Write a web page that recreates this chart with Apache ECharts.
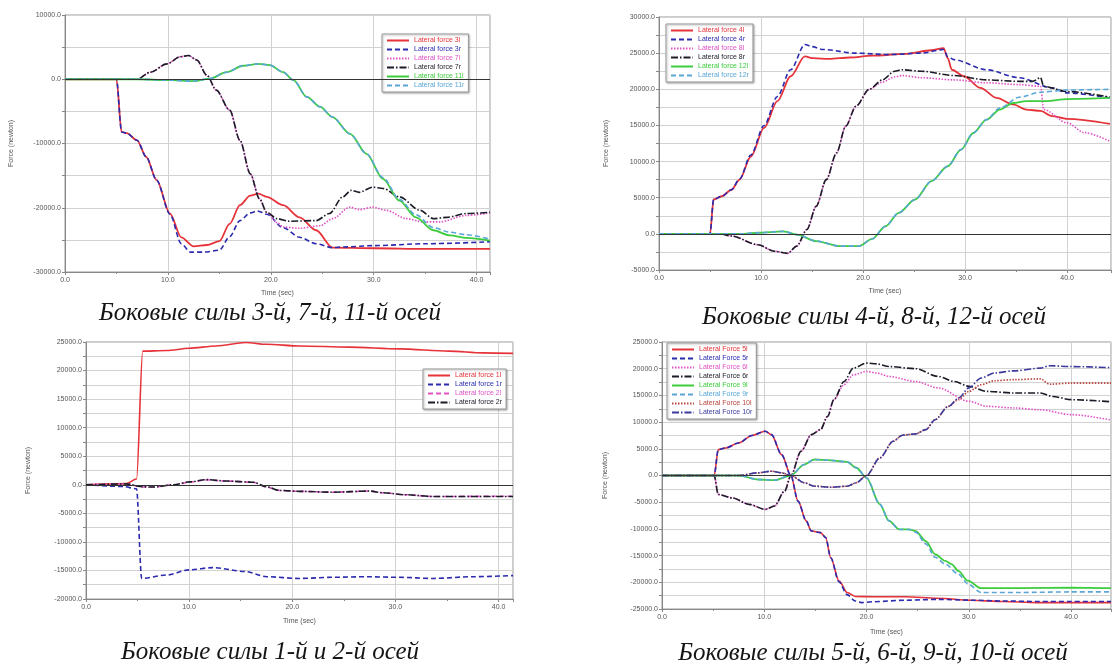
<!DOCTYPE html>
<html>
<head>
<meta charset="utf-8">
<script src="https://cdn.jsdelivr.net/npm/echarts/dist/echarts.min.js"></script>
<style>
  html, body { margin: 0; padding: 0; background: #fff; }
  #chart { width: 1114px; height: 666px; }
</style>
</head>
<body>
<div id="chart"></div>
<script>
// ---- данные: [время, сила] ----
// оси 3, 7, 11
const f3l = [[0,0],[5.0,0],[5.5,-8200],[6.0,-8400],[7.0,-9500],[7.9,-12100],[8.9,-15700],[10.2,-20900],[11.3,-24600],[12.5,-26000],[13.8,-25800],[15.0,-25200],[16.0,-22500],[17.0,-19600],[18.0,-18100],[18.8,-17800],[19.6,-18300],[21.2,-19600],[22.8,-21500],[24.4,-23500],[26.0,-26200],[30,-26300],[35,-26400],[41.3,-26400]];
const f3r = [[0,0],[5.0,0],[5.5,-8200],[6.0,-8400],[7.0,-9500],[7.9,-12100],[8.9,-15700],[10.2,-21000],[11.3,-25600],[12.2,-26900],[13.5,-26900],[15.0,-26600],[16.0,-24500],[17.0,-22000],[18.0,-20800],[18.7,-20500],[19.6,-21000],[21.2,-23100],[22.8,-24600],[24.4,-25600],[26.0,-26200],[27,-26100],[30,-25900],[35,-25600],[41.3,-25300]];
const f7l = [[0,0],[7,0],[8.3,1100],[9.9,2400],[11.2,3500],[12,3700],[12.8,3000],[13.8,600],[14.7,-1700],[16,-4800],[17,-9500],[18,-14700],[18.9,-18600],[19.6,-20700],[20.6,-22300],[21.2,-23000],[22.8,-23200],[24.8,-22800],[26,-21700],[27.7,-19900],[28.6,-20300],[29.9,-19900],[31.2,-20400],[33.2,-21700],[34.8,-22200],[36.4,-22200],[39,-21200],[41.3,-20800]];
const f7r = [[0,0],[7,0],[8.3,1100],[9.9,2400],[11.2,3500],[12,3700],[12.8,3000],[13.8,600],[14.7,-1700],[16,-4800],[17,-9500],[18,-14700],[18.9,-18600],[19.6,-20700],[20.6,-21700],[21.8,-22100],[24.4,-22000],[25.7,-20900],[27,-18300],[27.8,-17300],[28.6,-17600],[29.9,-16800],[30.9,-17000],[32.5,-18300],[34.5,-20400],[35.8,-21700],[37.1,-21500],[39,-20900],[41.3,-20700]];
const f11l = [[0,0],[7,0],[10.2,-150],[12.5,-300],[14.1,100],[15.7,1100],[17.3,2100],[18.8,2400],[19.9,2200],[21.2,1100],[22.2,-150],[23.5,-2750],[24.8,-4300],[26,-5900],[27.7,-8500],[29.3,-11600],[30.9,-15500],[32.5,-18900],[34.1,-21500],[35.8,-23500],[37.4,-24300],[39,-24700],[41.3,-25100]];
const f11r = [[0,0],[7,0],[10.2,-150],[12.5,-300],[14.1,100],[15.7,1100],[17.3,2100],[18.8,2400],[19.9,2200],[21.2,1100],[22.2,-150],[23.5,-2750],[24.8,-4300],[26,-5900],[27.7,-8500],[29.3,-11600],[30.9,-15300],[32.5,-18700],[34.1,-21100],[35.8,-23100],[37.4,-23800],[39,-24200],[41.3,-24900]];

// оси 4, 8, 12
const f4l = [[0,0],[5.0,0],[5.35,4750],[6.15,5200],[7.1,6100],[7.9,7500],[9.0,10700],[10.3,14650],[11.6,18350],[12.9,21800],[14.3,24550],[15.1,24300],[16.7,24200],[18.7,24400],[20.9,24650],[24.1,24900],[26.7,25400],[27.9,25700],[28.3,24300],[28.7,22700],[29.9,21800],[31.5,20200],[33.1,18800],[34.7,17900],[36.0,17200],[37.4,17000],[38.5,16300],[40,15900],[44.2,15200]];
const f4r = [[0,0],[5.0,0],[5.35,4750],[6.15,5200],[7.1,6100],[7.9,7600],[9.0,10900],[10.3,15000],[11.6,19000],[12.9,22700],[14.3,26200],[15.0,25900],[16.1,25500],[19.3,25000],[22.5,24800],[25.7,25000],[27.9,25500],[28.3,24500],[28.9,24100],[32.1,22700],[35.3,21600],[38.5,20200],[40,19500],[44.2,18800]];
const f8l = [[0,0],[6,0],[7.1,-300],[9.7,-1500],[11.3,-2400],[12.6,-2700],[13.5,-1700],[14.5,600],[15.4,3800],[16.4,7500],[17.4,11200],[18.3,14900],[19.3,17650],[20.6,20000],[21.9,21000],[23.1,21700],[23.8,21900],[25.7,21600],[28.9,21300],[32.1,20900],[35.3,20650],[37.4,20400],[37.7,17200],[40,15350],[41.7,14000],[44.2,12800]];
const f8r = [[0,0],[6,0],[7.1,-300],[9.7,-1500],[11.3,-2400],[12.6,-2700],[13.5,-1700],[14.5,600],[15.4,3800],[16.4,7500],[17.4,11200],[18.3,14900],[19.3,17650],[20.6,20000],[21.9,21300],[23.1,22500],[23.8,22700],[25.7,22500],[28.9,21900],[32.1,21300],[35.3,21100],[36.6,21100],[37.4,21600],[37.7,20400],[40,19700],[44.2,18900]];
const f12l = [[0,0],[8,0],[9.7,150],[12.2,350],[13.5,-100],[15.4,-1000],[17.7,-1700],[19.6,-1700],[20.9,-700],[22.2,1050],[23.5,2900],[25.1,4750],[26.7,7300],[28.3,9350],[29.6,11650],[30.8,13950],[32.1,15800],[33.4,17200],[34.7,18100],[36,18350],[37.9,18350],[40,18650],[44.2,18800]];
const f12r = [[0,0],[8,0],[9.7,150],[12.2,350],[13.5,-100],[15.4,-1000],[17.7,-1700],[19.6,-1700],[20.9,-700],[22.2,1050],[23.5,2900],[25.1,4750],[26.7,7300],[28.3,9350],[29.6,11650],[30.8,13950],[32.1,15800],[33.4,17400],[35.3,18900],[37.4,19600],[40,19900],[44.2,20000]];

// оси 1, 2
const f1l = [[0,0],[3.9,200],[4.9,1000],[5.5,23400],[7.8,23500],[10,23900],[12.6,24300],[15.5,24900],[17.5,24600],[20.7,24300],[25.5,24100],[30.4,23800],[35.2,23400],[38.5,23100],[41.4,23000]];
const f1r = [[0,0],[3.6,-300],[4.9,-700],[5.4,-16400],[7.8,-15800],[10,-14900],[12.3,-14500],[15.5,-15200],[17.5,-16100],[20.7,-16400],[23.9,-16200],[27.2,-16100],[30.4,-16200],[33.6,-16400],[37.5,-16100],[41.4,-15900]];
const f2l = [[0,0],[3.9,150],[5.5,-400],[6.5,-400],[8.5,0],[10,450],[11.7,850],[13.6,650],[16.2,450],[17.5,-400],[18.8,-1000],[20.7,-1150],[23.9,-1300],[27.5,-1100],[28.8,-1400],[31,-1750],[33.6,-2050],[41.4,-2000]];
const f2r = [[0,0],[3.9,150],[5.5,-350],[6.5,-400],[8.5,0],[10,500],[11.7,900],[13.6,650],[16.2,450],[17.5,-350],[18.8,-1000],[20.7,-1150],[23.9,-1300],[27.5,-1100],[28.8,-1400],[31,-1750],[33.6,-2050],[41.4,-2050]];

// оси 5, 6, 9, 10
const f5l = [[0,0],[5.1,0],[5.5,4850],[6.2,5150],[7.5,6100],[8.8,7500],[10.1,8300],[10.7,7650],[11.7,3900],[12.6,0],[13.3,-4800],[14.1,-8500],[14.6,-10400],[15.5,-10700],[16,-11600],[16.5,-15400],[17.3,-19700],[18.1,-21900],[18.9,-22650],[20.6,-22700],[23.8,-22700],[27,-23000],[30.2,-23350],[33.4,-23600],[36.6,-23800],[40,-23800],[43.9,-23800]];
const f5r = [[0,0],[5.1,0],[5.5,4850],[6.2,5150],[7.5,6100],[8.8,7500],[10.1,8300],[10.7,7650],[11.7,3900],[12.6,0],[13.3,-4800],[14.1,-8500],[14.6,-10400],[15.5,-10700],[16,-11600],[16.5,-15400],[17.3,-19900],[18.1,-22300],[18.9,-23500],[19.5,-23800],[20.6,-23650],[23.8,-23350],[27,-23200],[30.2,-23350],[33.4,-23500],[36.6,-23600],[40,-23600],[43.9,-23600]];
const f6l = [[0,0],[5.1,0],[5.5,-3550],[6.9,-4200],[8.5,-5400],[10.1,-6350],[11,-5700],[12,-2900],[12.6,0],[13.6,4550],[14.6,7650],[15.5,8600],[16.2,11100],[16.8,14200],[17.8,17000],[18.7,18850],[20,19500],[21,19200],[22.2,18550],[24.8,17600],[27,16400],[30,13900],[31.8,12950],[34.4,12650],[37,12300],[40,11400],[43.9,10400]];
const f6r = [[0,0],[5.1,0],[5.5,-3550],[6.9,-4200],[8.5,-5400],[10.1,-6350],[11,-5700],[12,-2900],[12.6,0],[13.6,4550],[14.6,7650],[15.5,8600],[16.2,11100],[16.8,14200],[17.8,17600],[18.7,20100],[20,21050],[21,20900],[22.2,20400],[24.8,20000],[27,18550],[28.6,17600],[30,16700],[31.8,15750],[34.4,15450],[37,15450],[38.2,14800],[40,14200],[43.9,13800]];
const f9l = [[0,0],[7.5,0],[9.4,-750],[11,-870],[12.6,0],[13.9,2050],[14.9,3000],[16.5,2850],[18.1,2550],[19,1450],[20,-450],[21.3,-5400],[22.2,-8500],[23.2,-10100],[24.2,-10100],[24.8,-10400],[25.8,-12300],[26.7,-14750],[27.7,-16000],[28.3,-16600],[29,-17900],[29.9,-19700],[31.2,-21100],[35,-21100],[40,-21000],[43.9,-21100]];
const f9r = [[0,0],[7.5,0],[9.4,-750],[11,-870],[12.6,0],[13.9,2050],[14.9,3000],[16.5,2850],[18.1,2550],[19,1450],[20,-450],[21.3,-5400],[22.2,-8500],[23.2,-10100],[24.2,-10100],[24.8,-10600],[25.8,-12800],[26.7,-15300],[27.7,-16600],[29,-18500],[29.9,-20300],[31.2,-21900],[35,-21900],[40,-21800],[43.9,-21800]];
const f10l = [[0,0],[7.5,0],[9.4,500],[10.7,800],[11.7,500],[12.6,0],[13.9,-1350],[14.9,-2000],[16.5,-2200],[18.1,-2000],[19,-1350],[20,0],[21.3,3300],[22.6,6400],[23.5,7550],[24.8,7800],[25.8,8600],[26.7,10450],[28,12950],[29,14200],[30,15750],[31.2,17000],[32.5,17750],[34.4,17950],[37,18100],[37.9,17100],[40,17300],[43.9,17300]];
const f10r = [[0,0],[7.5,0],[9.4,500],[10.7,800],[11.7,500],[12.6,0],[13.9,-1350],[14.9,-2000],[16.5,-2200],[18.1,-2000],[19,-1350],[20,0],[21.3,3300],[22.6,6400],[23.5,7550],[24.8,7800],[25.8,8600],[26.7,10450],[28,12950],[29,14500],[30,16400],[31.2,18250],[32.5,19200],[34.4,19600],[37,20100],[37.9,20550],[40,20400],[43.9,20200]];

const captions = [
  "Боковые силы 3-й, 7-й, 11-й осей",
  "Боковые силы 4-й, 8-й, 12-й осей",
  "Боковые силы 1-й и 2-й осей",
  "Боковые силы 5-й, 6-й, 9-й, 10-й осей"
];

// стили линий
const RED = "#e6333a", NAVY = "#2b2bb0", PINK = "#e052c6", BLACK = "#1c1c28",
      GREEN = "#3dcc3d", SKY = "#5aa6d6", BROWN = "#b8453f", INDIGO = "#3b3a9c";
const SOLID = "solid", DASH = [5, 3], DOT = [1.5, 1.5], DASHDOT = [7, 2, 1.5, 2];

const chart = echarts.init(document.getElementById("chart"));

const line = (name, data, idx, color, dash, width) => ({
  name: name,
  type: "line",
  xAxisIndex: idx,
  yAxisIndex: idx,
  data: data,
  symbol: "none",
  smooth: 0.3,
  smoothMonotone: "x",
  lineStyle: { color: color, width: width || 1.6, type: dash },
  itemStyle: { color: color },
});

// нулевая линия
const zero = {
  silent: true,
  symbol: ["none", "none"],
  label: { show: false },
  lineStyle: { color: "#333", width: 1, type: "solid" },
  data: [{ yAxis: 0 }],
};

const legend = (names, colors, left, top) => ({
  orient: "vertical",
  left: left,
  top: top,
  itemWidth: 22,
  itemHeight: 8,
  itemGap: 2,
  padding: [3, 4],
  borderColor: "#999",
  borderWidth: 1,
  backgroundColor: "#fff",
  shadowBlur: 2,
  shadowOffsetX: 1,
  shadowOffsetY: 1,
  shadowColor: "rgba(0,0,0,0.3)",
  itemStyle: { opacity: 0 },
  textStyle: { fontSize: 7, fontFamily: "Liberation Sans" },
  data: names.map((n, i) => ({ name: n, textStyle: { color: colors[i] } })),
});

const xAx = (idx, max, gap) => ({
  gridIndex: idx,
  type: "value",
  min: 0,
  max: max,
  interval: 10,
  name: "Time (sec)",
  nameLocation: "middle",
  nameGap: gap,
  nameTextStyle: { fontSize: 7, color: "#555", fontFamily: "Liberation Sans" },
  axisLine: { onZero: false, lineStyle: { color: "#888" } },
  axisTick: { length: 3, lineStyle: { color: "#888" } },
  minorTick: { show: true, splitNumber: 2, length: 2, lineStyle: { color: "#888" } },
  axisLabel: {
    fontSize: 7,
    color: "#555",
    margin: 5,
    fontFamily: "Liberation Sans",
    formatter: (v) => (Math.abs(v % 10) < 1e-6 ? v.toFixed(1) : ""),
  },
  splitLine: { show: true, lineStyle: { color: "#d2d2d2" } },
});

const yAx = (idx, min, max, step, labelStep, gap) => ({
  gridIndex: idx,
  type: "value",
  min: min,
  max: max,
  interval: step,
  name: "Force (newton)",
  nameLocation: "middle",
  nameGap: gap,
  nameTextStyle: { fontSize: 7, color: "#555", fontFamily: "Liberation Sans" },
  axisLine: { show: true, lineStyle: { color: "#888" } },
  axisTick: { show: true, length: 3, lineStyle: { color: "#888" } },
  axisLabel: {
    fontSize: 7,
    color: "#555",
    margin: 4,
    fontFamily: "Liberation Sans",
    formatter: (v) => (v % labelStep === 0 ? v.toFixed(1) : ""),
  },
  splitLine: { lineStyle: { color: "#d2d2d2" } },
});

const gridBox = (left, top, right, height) => ({
  left: left,
  top: top,
  right: right,
  height: height,
  show: true,
  borderColor: "#999",
  borderWidth: 1,
  backgroundColor: "#fff",
});

const caption = (text, x, y) => ({
  type: "text",
  x: x,
  y: y,
  style: {
    text: text,
    font: 'italic 25px "Liberation Serif"',
    fill: "#151515",
    align: "center",
    verticalAlign: "middle",
    textAlign: "center",
    textVerticalAlign: "middle",
  },
});

const s0 = line("Lateral force 3l", f3l, 0, RED, SOLID, 1.8);
s0.markLine = zero;
const s1 = line("Lateral force 4l", f4l, 1, RED, SOLID, 1.8);
s1.markLine = zero;
const s2 = line("Lateral force 1l", f1l, 2, RED, SOLID, 1.6);
s2.markLine = zero;
const s3 = line("Lateral Force 5l", f5l, 3, RED, SOLID, 1.6);
s3.markLine = zero;

let options = {
  animation: false,
  backgroundColor: "#fff",
  grid: [
    gridBox(65, 15, 624, 257),
    gridBox(659, 17, -6, 253),
    gridBox(86, 342, 601, 257),
    gridBox(662, 342, -6, 267),
  ],
  xAxis: [xAx(0, 41.3, 18), xAx(1, 44.3, 18), xAx(2, 41.4, 19), xAx(3, 43.9, 20)],
  yAxis: [
    yAx(0, -30000, 10000, 5000, 10000, 50),
    yAx(1, -5000, 30000, 2500, 5000, 49),
    yAx(2, -20000, 25000, 2500, 5000, 54),
    yAx(3, -25000, 25000, 2500, 5000, 53),
  ],
  legend: [
    legend(
      ["Lateral force 3l", "Lateral force 3r", "Lateral force 7l", "Lateral force 7r", "Lateral force 11l", "Lateral force 11r"],
      [RED, NAVY, PINK, BLACK, GREEN, SKY], 382, 34
    ),
    legend(
      ["Lateral force 4l", "Lateral force 4r", "Lateral force 8l", "Lateral force 8r", "Lateral force 12l", "Lateral force 12r"],
      [RED, NAVY, PINK, BLACK, GREEN, SKY], 666, 24
    ),
    legend(
      ["Lateral force 1l", "Lateral force 1r", "Lateral force 2l", "Lateral force 2r"],
      [RED, NAVY, PINK, BLACK], 423, 369
    ),
    legend(
      ["Lateral Force 5l", "Lateral Force 5r", "Lateral Force 6l", "Lateral Force 6r", "Lateral Force 9l", "Lateral Force 9r", "Lateral Force 10l", "Lateral Force 10r"],
      [RED, NAVY, PINK, BLACK, GREEN, SKY, BROWN, INDIGO], 667, 343
    ),
  ],
  series: [
    s0,
    line("Lateral force 3r", f3r, 0, NAVY, DASH),
    line("Lateral force 7l", f7l, 0, PINK, DOT),
    line("Lateral force 7r", f7r, 0, BLACK, DASHDOT),
    line("Lateral force 11l", f11l, 0, GREEN, SOLID, 1.8),
    line("Lateral force 11r", f11r, 0, SKY, DASH),

    s1,
    line("Lateral force 4r", f4r, 1, NAVY, DASH),
    line("Lateral force 8l", f8l, 1, PINK, DOT),
    line("Lateral force 8r", f8r, 1, BLACK, DASHDOT),
    line("Lateral force 12l", f12l, 1, GREEN, SOLID, 1.8),
    line("Lateral force 12r", f12r, 1, SKY, DASH),

    s2,
    line("Lateral force 1r", f1r, 2, NAVY, DASH),
    line("Lateral force 2l", f2l, 2, PINK, DASH),
    line("Lateral force 2r", f2r, 2, BLACK, DASHDOT),

    s3,
    line("Lateral Force 5r", f5r, 3, NAVY, DASH),
    line("Lateral Force 6l", f6l, 3, PINK, DOT),
    line("Lateral Force 6r", f6r, 3, BLACK, DASHDOT),
    line("Lateral Force 9l", f9l, 3, GREEN, SOLID, 1.8),
    line("Lateral Force 9r", f9r, 3, SKY, DASH),
    line("Lateral Force 10l", f10l, 3, BROWN, DOT),
    line("Lateral Force 10r", f10r, 3, INDIGO, DASHDOT),
  ],
  graphic: [
    caption(captions[0], 270, 313),
    caption(captions[1], 874, 317),
    caption(captions[2], 270, 652),
    caption(captions[3], 873, 653),
  ],
};

chart.setOption(options);
</script>
</body>
</html>
